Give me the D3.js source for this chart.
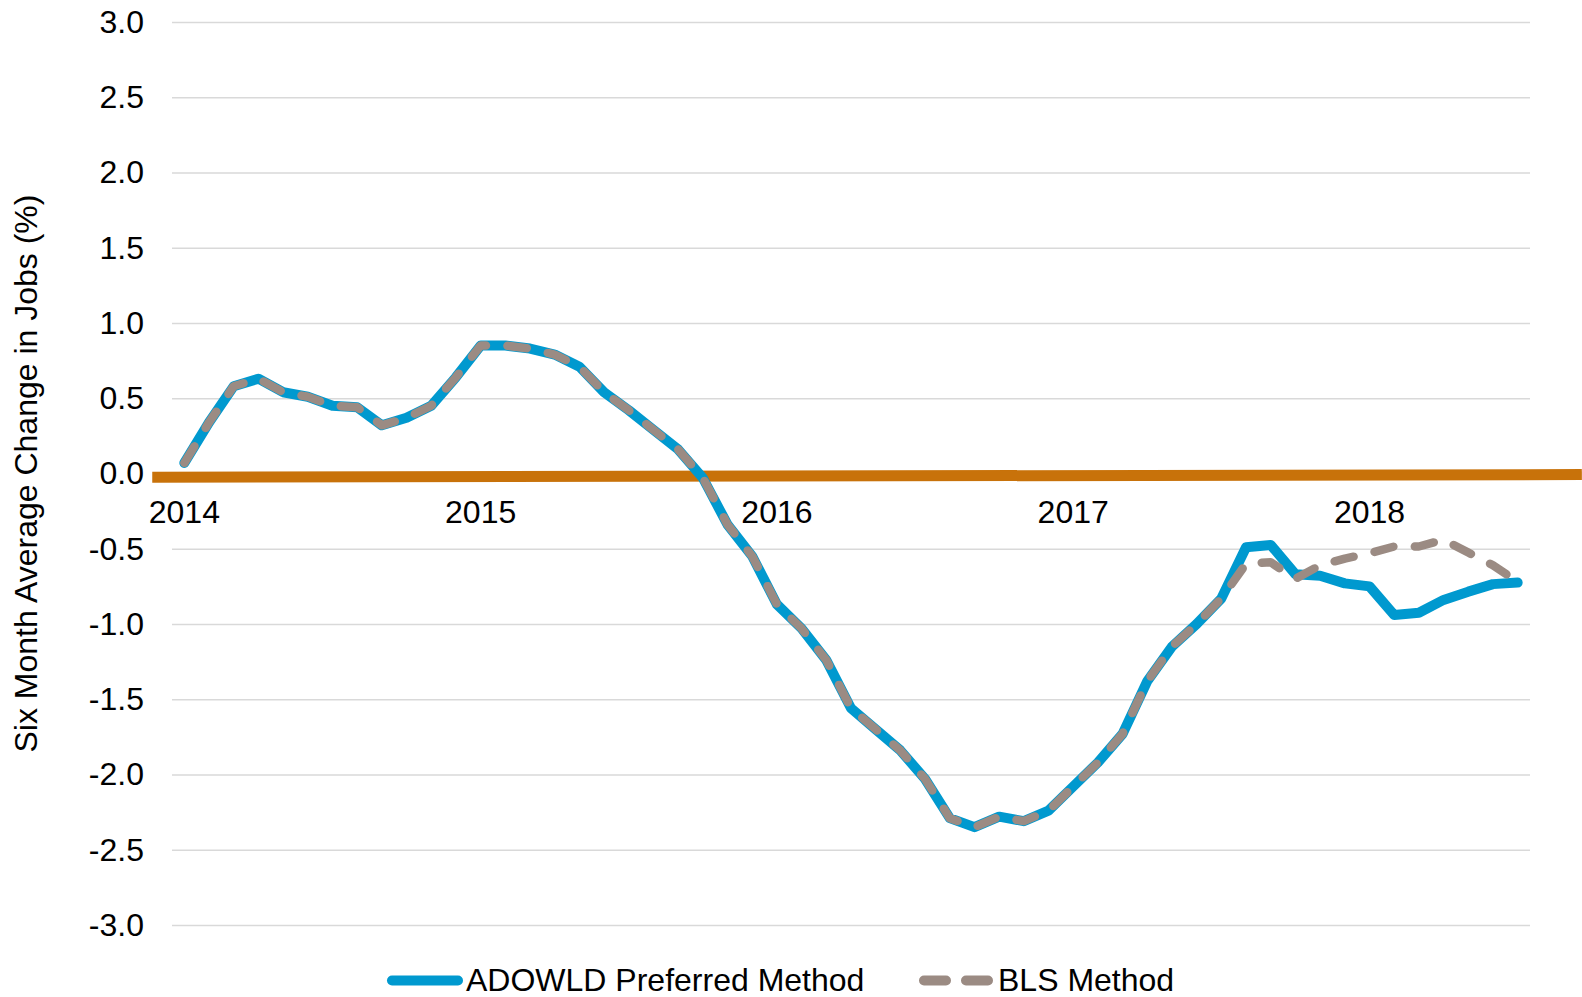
<!DOCTYPE html>
<html>
<head>
<meta charset="utf-8">
<script src="https://cdn.jsdelivr.net/npm/d3@7"></script>
<style>
  body { margin: 0; background: #fff; }
  svg { display: block; font-family: 'Liberation Sans', Arial, sans-serif; }
</style>
</head>
<body>
<div id="chart"></div>
<script>
// monthly categories, Jan 2014 .. Jul 2018
const months = d3.timeMonth.range(new Date(2014, 0, 1), new Date(2018, 7, 1));
const yearLabels = ['2014', '2015', '2016', '2017', '2018'];
const yTickValues = [3, 2.5, 2, 1.5, 1, 0.5, 0, -0.5, -1, -1.5, -2, -2.5, -3];

// six month average change in jobs (%)
const adowld = [
  0.07, 0.34, 0.58, 0.63, 0.54, 0.51, 0.45, 0.44, 0.32, 0.37, 0.45, 0.64,
  0.85, 0.85, 0.83, 0.79, 0.71, 0.54, 0.42, 0.29, 0.16, -0.03, -0.34, -0.55,
  -0.87, -1.03, -1.24, -1.56, -1.70, -1.84, -2.03, -2.29, -2.35, -2.28, -2.31, -2.24,
  -2.08, -1.92, -1.73, -1.38, -1.15, -1.00, -0.83, -0.49, -0.475, -0.67, -0.68, -0.73,
  -0.75, -0.94, -0.925, -0.84, -0.785, -0.735, -0.725
];
const bls = [
  0.07, 0.34, 0.58, 0.63, 0.54, 0.51, 0.45, 0.44, 0.32, 0.37, 0.45, 0.64,
  0.85, 0.85, 0.83, 0.79, 0.71, 0.54, 0.42, 0.29, 0.16, -0.03, -0.34, -0.55,
  -0.87, -1.03, -1.24, -1.56, -1.70, -1.84, -2.03, -2.29, -2.35, -2.28, -2.31, -2.24,
  -2.08, -1.92, -1.73, -1.38, -1.15, -1.00, -0.83, -0.60, -0.59, -0.70, -0.61, -0.565,
  -0.53, -0.485, -0.485, -0.44, -0.525, -0.61, -0.72
];
// the orange zero rule (month index, value) - runs past the plot edges
const zeroLine = [{ i: -1.3, v: -0.025 }, { i: 56.6, v: -0.007 }];

const seriesNames = ['ADOWLD Preferred Method', 'BLS Method'];

const width = 1582;
const height = 997;
const margin = { top: 22, right: 52, bottom: 72, left: 172 };
const fontSize = 32;
const blue = '#0099cf';
const grey = '#9b8b83';

const svg = d3.select('#chart')
  .append('svg')
  .attr('width', width)
  .attr('height', height);

const x = d3.scaleBand()
  .domain(months)
  .range([margin.left, width - margin.right]);
const xIdx = d3.scaleLinear()
  .domain([-0.5, months.length - 0.5])
  .range([margin.left, width - margin.right]);
const y = d3.scaleLinear()
  .domain([-3, 3])
  .range([height - margin.bottom, margin.top]);

const cx = d => x(d) + x.bandwidth() / 2;

// gridlines + y labels
const yAxis = d3.axisLeft(y)
  .tickValues(yTickValues)
  .tickFormat(d => d.toFixed(1))
  .tickSizeInner(margin.left + margin.right - width)
  .tickSizeOuter(0)
  .tickPadding(28);
svg.append('g')
  .attr('class', 'y-axis-container')
  .attr('transform', `translate(${margin.left}, 0)`)
  .call(yAxis);
svg.select('.y-axis-container').select('path').attr('stroke', 'none');
svg.select('.y-axis-container').selectAll('line')
  .attr('stroke', '#d9d9d9')
  .attr('stroke-width', 1.6);
svg.select('.y-axis-container').selectAll('text')
  .attr('font-size', fontSize)
  .attr('font-family', null)
  .attr('fill', '#000');

// orange zero rule
svg.append('path')
  .datum(zeroLine)
  .attr('fill', 'none')
  .attr('stroke', '#c8720a')
  .attr('stroke-width', 11)
  .attr('d', d3.line().x(d => xIdx(d.i)).y(d => y(d.v)));

// x labels sit next to the zero line
const januaries = months.filter(d => d.getMonth() === 0);
const xAxis = d3.axisBottom(x)
  .tickValues(januaries)
  .tickFormat((d, i) => yearLabels[i])
  .tickSize(0)
  .tickPadding(27);
svg.append('g')
  .attr('class', 'x-axis-container')
  .attr('transform', `translate(0, ${y(0)})`)
  .call(xAxis);
svg.select('.x-axis-container').select('path').attr('stroke', 'none');
svg.select('.x-axis-container').selectAll('text')
  .attr('font-size', fontSize)
  .attr('font-family', null)
  .attr('fill', '#000');

// series
const line = d3.line()
  .x((d, i) => cx(months[i]))
  .y(d => y(d));

svg.append('path')
  .datum(adowld)
  .attr('fill', 'none')
  .attr('stroke', blue)
  .attr('stroke-width', 10)
  .attr('stroke-linejoin', 'round')
  .attr('stroke-linecap', 'round')
  .attr('d', line);

svg.append('path')
  .datum(bls)
  .attr('fill', 'none')
  .attr('stroke', grey)
  .attr('stroke-width', 8.5)
  .attr('stroke-linejoin', 'round')
  .attr('stroke-linecap', 'round')
  .attr('stroke-dasharray', '19.5 21.5')
  .attr('d', line);

// y title
svg.append('text')
  .attr('transform', `translate(37, ${y(0)}) rotate(-90)`)
  .attr('text-anchor', 'middle')
  .attr('font-size', fontSize)
  .attr('fill', '#000')
  .text('Six Month Average Change in Jobs (%)');

// legend
const legend = svg.append('g').attr('class', 'legend');
const legendY = 980.5;
legend.append('line')
  .attr('x1', 392).attr('x2', 458)
  .attr('y1', legendY).attr('y2', legendY)
  .attr('stroke', blue)
  .attr('stroke-width', 10)
  .attr('stroke-linecap', 'round');
legend.append('text')
  .attr('x', 466)
  .attr('y', legendY + 10.5)
  .attr('font-size', fontSize)
  .text(seriesNames[0]);
legend.append('line')
  .attr('x1', 924).attr('x2', 990)
  .attr('y1', legendY).attr('y2', legendY)
  .attr('stroke', grey)
  .attr('stroke-width', 10)
  .attr('stroke-linecap', 'round')
  .attr('stroke-dasharray', '22 20');
legend.append('text')
  .attr('x', 998)
  .attr('y', legendY + 10.5)
  .attr('font-size', fontSize)
  .text(seriesNames[1]);
</script>
</body>
</html>
